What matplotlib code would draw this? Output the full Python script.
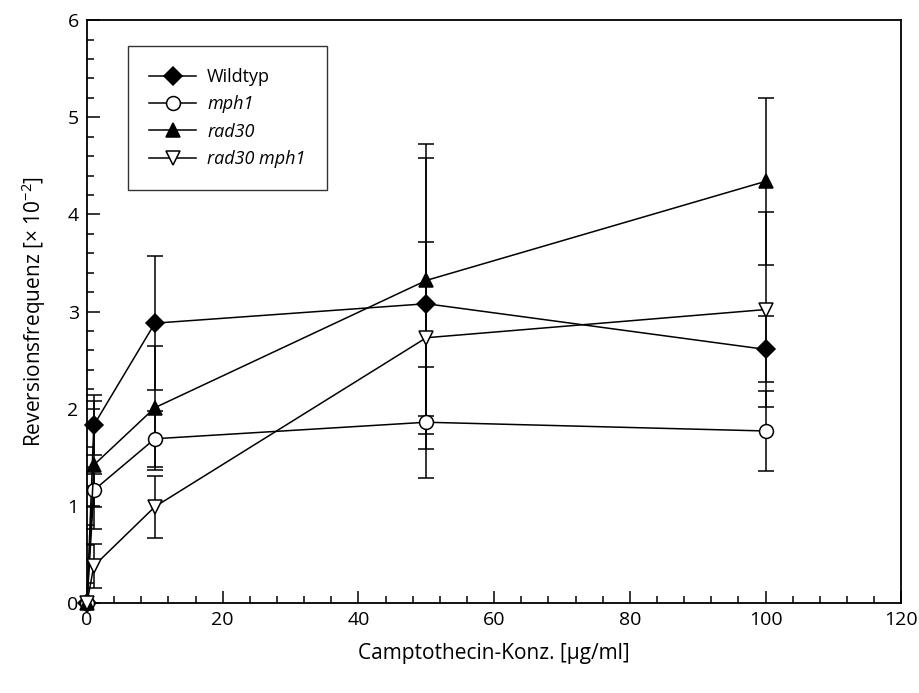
import matplotlib.pyplot as plt
from matplotlib.lines import Line2D
from matplotlib.ticker import MultipleLocator

plt.rcParams['font.family'] = ['Open Sans', 'DejaVu Sans']
plt.rcParams['mathtext.fontset'] = 'custom'
plt.rcParams['mathtext.rm'] = 'Open Sans'
plt.rcParams['mathtext.it'] = 'Open Sans:italic'

# Camptothecin concentration [ug/ml]
conc = [0, 1, 10, 50, 100]

wt = [0, 1.83, 2.88, 3.08, 2.61]
wt_err = [0, 0.31, 0.69, 1.50, 0.34]

mph1 = [0, 1.16, 1.69, 1.86, 1.77]
mph1_err = [0, 0.17, 0.29, 0.57, 0.41]

rad30 = [0, 1.42, 2.01, 3.32, 4.34]
rad30_err = [0, 0.66, 0.64, 1.40, 0.86]

rad30mph1 = [0, 0.38, 0.99, 2.73, 3.02]
rad30mph1_err = [0, 0.23, 0.32, 0.99, 1.00]

series = [
    ('Wildtyp', wt, wt_err, 'D', 'black', 'normal'),
    ('mph1', mph1, mph1_err, 'o', 'white', 'italic'),
    ('rad30', rad30, rad30_err, '^', 'black', 'italic'),
    ('rad30 mph1', rad30mph1, rad30mph1_err, 'v', 'white', 'italic'),
]

fig = plt.figure(figsize=(9.19, 6.93), dpi=100)
ax = fig.add_axes([0.0947, 0.130, 0.886, 0.841])

handles = []
for name, y, err, mk, fc, style in series:
    ms = 9 if mk == 'D' else 10
    ax.errorbar(conc, y, yerr=err, color='black', lw=1.1, elinewidth=1.1,
                capsize=6, capthick=1.1, marker=mk, markersize=ms,
                markerfacecolor=fc, markeredgecolor='black', markeredgewidth=1.1,
                clip_on=False, zorder=3)
    handles.append(Line2D([], [], color='black', lw=1.1, marker=mk, markersize=ms,
                          markerfacecolor=fc, markeredgecolor='black',
                          markeredgewidth=1.1, label=name))

ax.set_xlim(0, 120)
ax.set_ylim(0, 6)
ax.xaxis.set_major_locator(MultipleLocator(20))
ax.xaxis.set_minor_locator(MultipleLocator(4))
ax.yaxis.set_major_locator(MultipleLocator(1))
ax.yaxis.set_minor_locator(MultipleLocator(0.2))
ax.tick_params(which='both', direction='in', top=False, right=False,
               labelsize=14, width=1.1)
ax.tick_params(which='major', length=9, pad=6)
ax.tick_params(which='minor', length=5)
for s in ax.spines.values():
    s.set_linewidth(1.3)

ax.set_xlabel('Camptothecin-Konz. [µg/ml]', fontsize=15, labelpad=10)
ax.set_ylabel('Reversionsfrequenz [× 10$^{-2}$]', fontsize=15, labelpad=14)

leg = ax.legend(handles=handles, loc='upper left', bbox_to_anchor=(0.050, 0.955),
                fontsize=13, frameon=True, fancybox=False, edgecolor='black',
                handlelength=2.6, handletextpad=0.6, borderpad=1.2,
                labelspacing=0.52, borderaxespad=0)
leg.get_frame().set_linewidth(1.0)
for txt, s in zip(leg.get_texts(), series):
    txt.set_fontstyle(s[5])

fig.savefig('out.png', dpi=100)
